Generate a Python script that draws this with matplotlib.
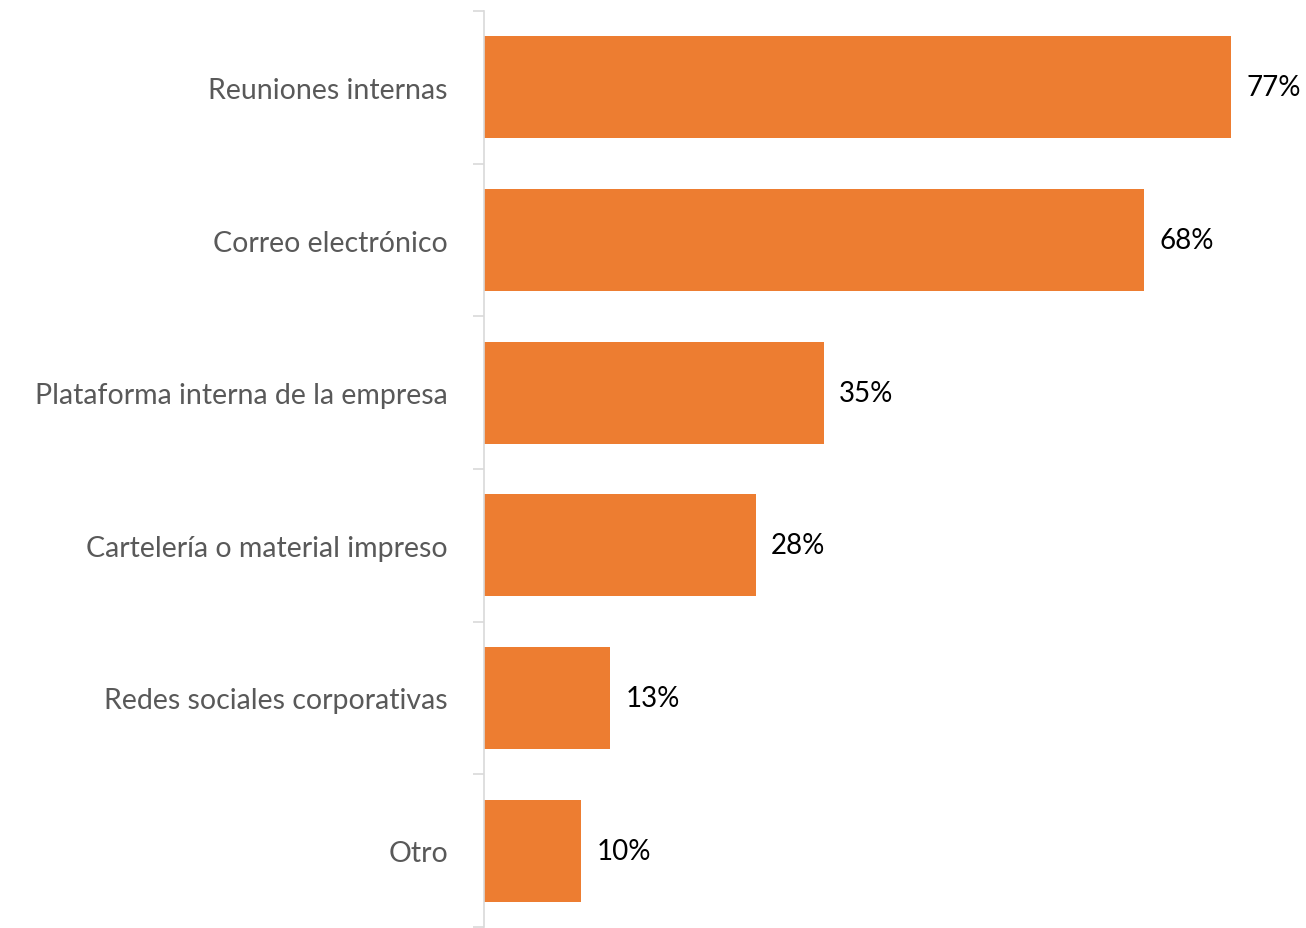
import matplotlib.pyplot as plt

# Datos
categorias = ["Reuniones internas", "Correo electrónico", "Plataforma interna de la empresa",
              "Cartelería o material impreso", "Redes sociales corporativas", "Otro"]
valores = [77, 68, 35, 28, 13, 10]
etiquetas = ["77%", "68%", "35%", "28%", "13%", "10%"]

plt.rcParams["font.family"] = ["Lato", "DejaVu Sans"]

fig = plt.figure(figsize=(13.06, 9.29), dpi=100)
ax = fig.add_axes([484 / 1306, 1 / 929, 776 / 1306, 916 / 929])

pos = list(range(len(categorias)))
ax.barh(pos, valores, height=0.67, color="#ED7D31")
ax.set_ylim(len(categorias) - 0.5, -0.5)
ax.set_xlim(0, 80)

for p, v, t in zip(pos, valores, etiquetas):
    ax.text(v + 1.6, p, t, va="center", ha="left", fontsize=20, color="black")

# Eje vertical con marcas entre categorías
ax.set_yticks([p - 0.5 for p in pos] + [len(pos) - 0.5])
ax.set_yticklabels([])
ax.set_yticks(pos, minor=True)
ax.set_yticklabels(categorias, minor=True, fontsize=20.5, color="#595959")
ax.tick_params(axis="y", which="major", length=8, color="#D9D9D9", width=1.2)
ax.tick_params(axis="y", which="minor", length=0, pad=26)
ax.set_xticks([])

for s in ["top", "right", "bottom"]:
    ax.spines[s].set_visible(False)
ax.spines["left"].set_color("#D9D9D9")
ax.spines["left"].set_linewidth(1.2)

plt.savefig("out.png")
